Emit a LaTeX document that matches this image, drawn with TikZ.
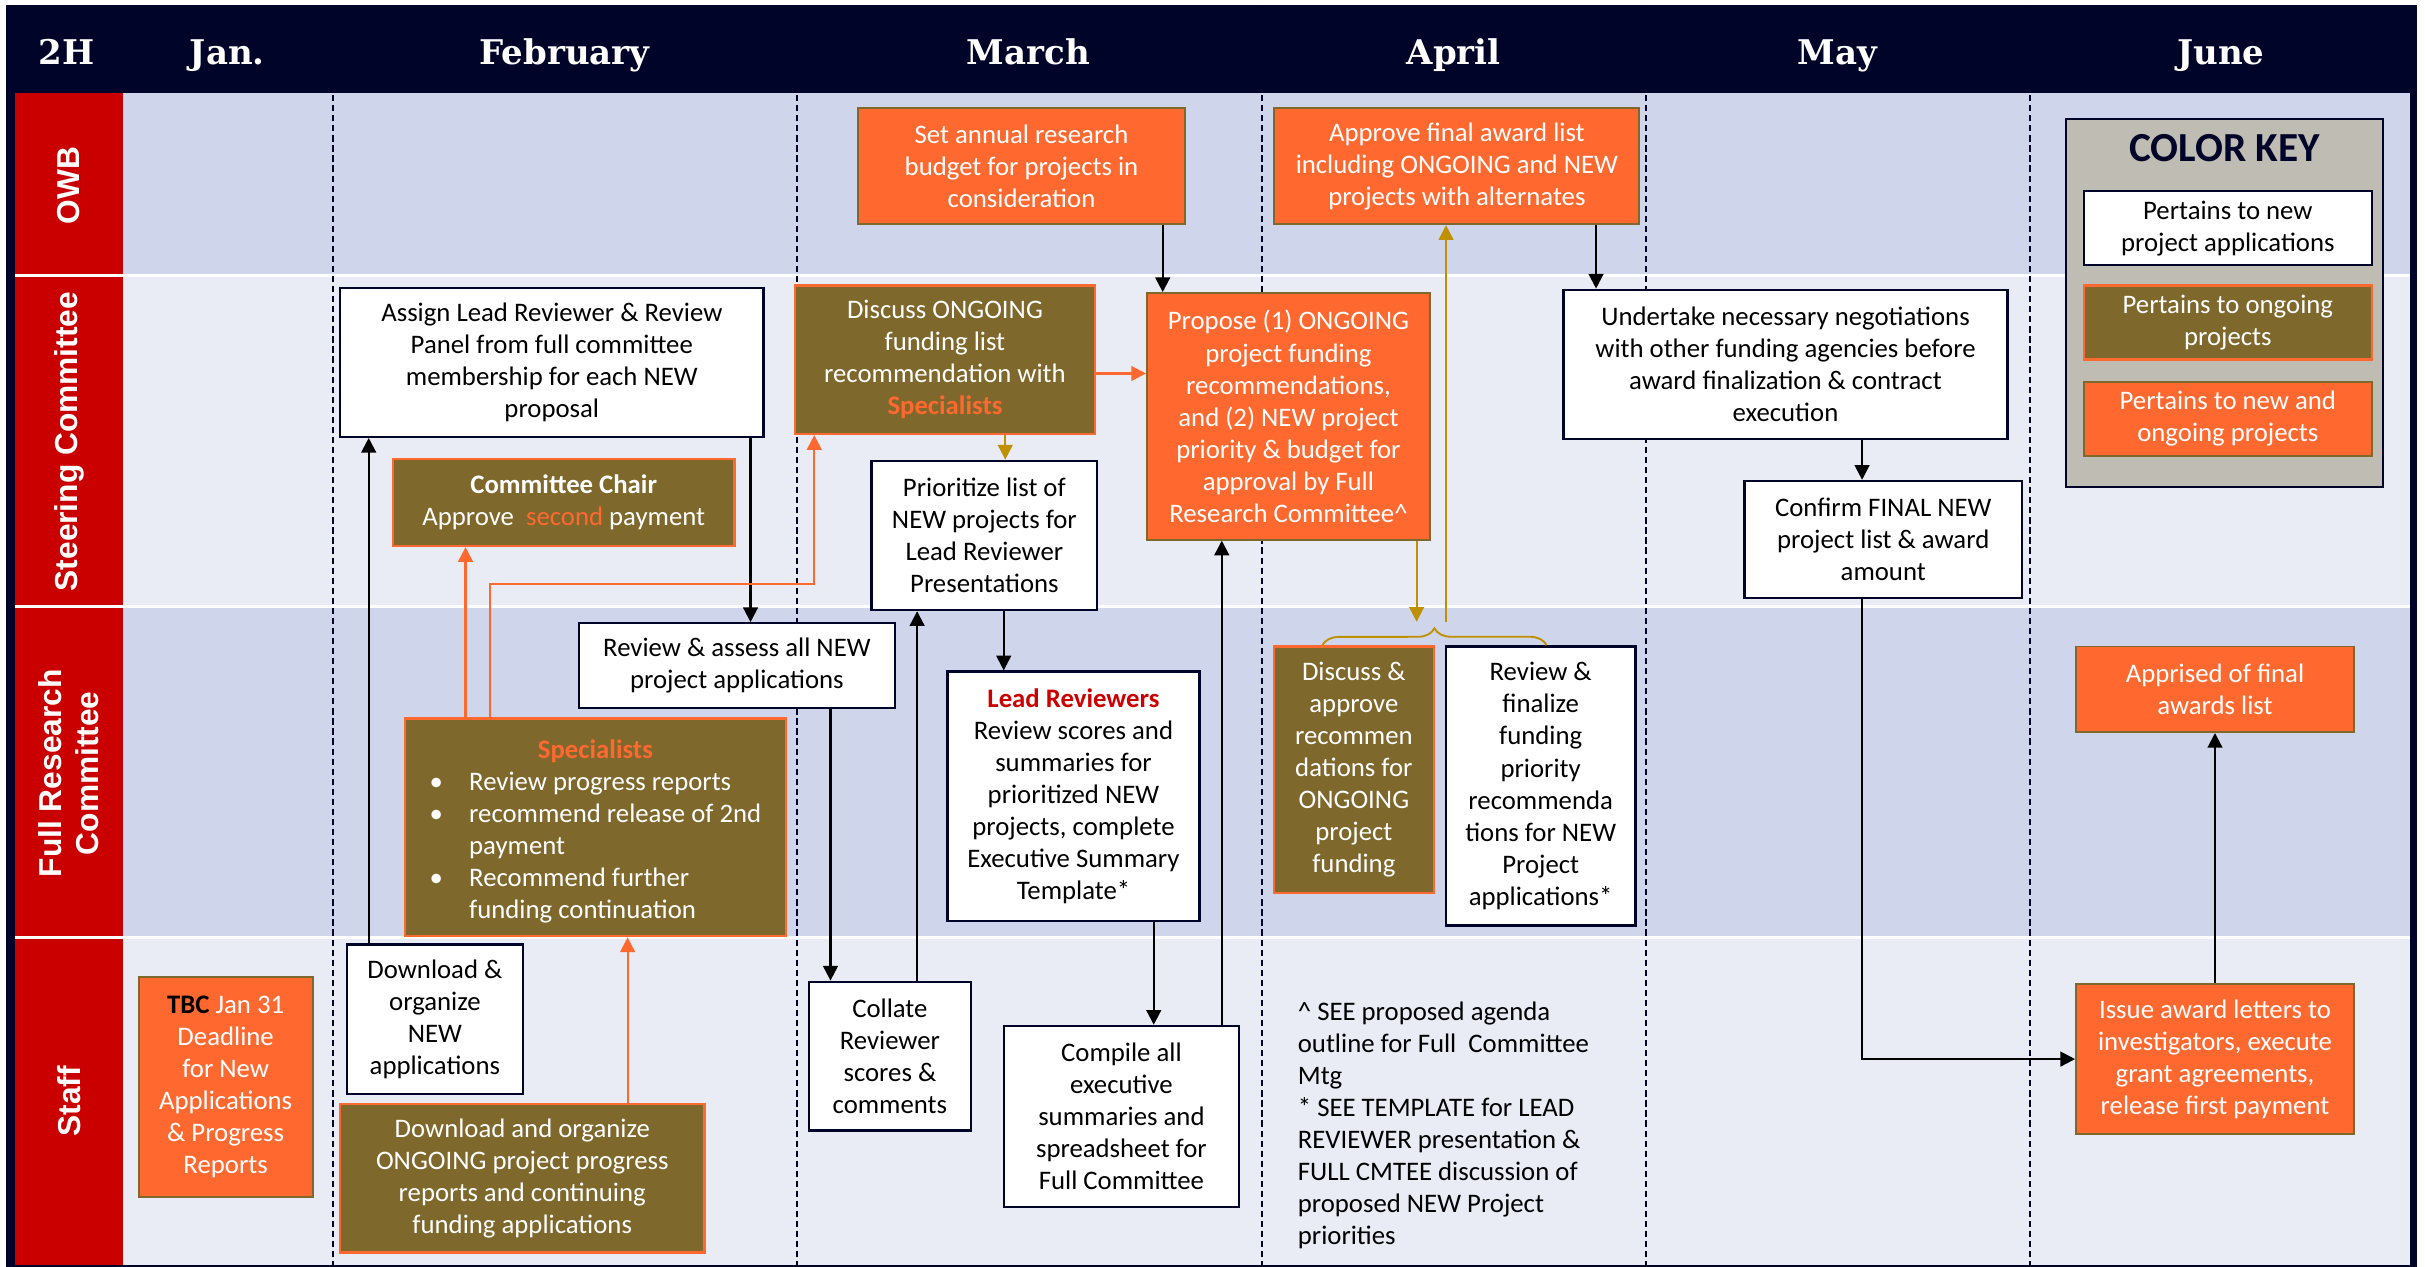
\documentclass[tikz,border=0pt]{standalone}
\usepackage{fontspec}
\setmainfont{Carlito}
\newfontfamily\lanefont{Liberation Sans}
\newfontfamily\hdrfont{DejaVu Serif}
\usetikzlibrary{arrows.meta}
\usetikzlibrary{positioning}
\usetikzlibrary{decorations.pathreplacing}
\definecolor{hdrnavy}{RGB}{0,4,40}
\definecolor{lanered}{RGB}{202,0,0}
\definecolor{laneA}{RGB}{207,213,234}
\definecolor{laneB}{RGB}{233,235,245}
\definecolor{fillorange}{RGB}{255,105,48}
\definecolor{fillolive}{RGB}{127,104,43}
\definecolor{arrowgold}{RGB}{191,144,0}
\definecolor{keygray}{RGB}{191,188,179}
\definecolor{leadred}{RGB}{204,0,0}
\newcommand{\txtbody}{\fontsize{17.3}{20.7}\selectfont}
\tikzset{>={Triangle[length=9.5pt,width=9.5pt]}}
\tikzset{
  newbox/.style={draw=hdrnavy, line width=1.5, fill=white, text=black, align=center, inner sep=2, font=\txtbody},
  oldbox/.style={draw=fillorange, line width=1.5, fill=fillolive, text=white, align=center, inner sep=2, font=\txtbody},
  bothbox/.style={draw=fillolive, line width=1.2, fill=fillorange, text=white, align=center, inner sep=2, font=\txtbody},
  blk/.style={draw=black, line width=1.4, ->},
  org/.style={draw=fillorange, line width=1.4, ->},
  gld/.style={draw=arrowgold, line width=1.3, ->},
  monthsep/.style={draw=hdrnavy, line width=1.3, dash pattern={on 4pt off 2.5pt}},
  hdrtxt/.style={anchor=base, text=white, font=\hdrfont\bfseries\fontsize{22}{26}\selectfont},
  lanelbl/.style={rotate=90, text=white, align=center, font=\lanefont\bfseries\fontsize{20.5}{24}\selectfont}
}

\begin{document}
\begin{tikzpicture}[x=1pt,y=1pt,yscale=-1,xscale=1]
\useasboundingbox (0,0) rectangle (1568,819);

%Shape: Rectangle (frame and header)
\fill[hdrnavy] (4,3) rectangle (1563,819);
%Shape: Rectangle (lanes)
\fill[laneA] (79.5,60) rectangle (1558,178);
\fill[laneB] (79.5,178) rectangle (1558,392);
\fill[laneA] (79.5,392) rectangle (1558,606);
\fill[laneB] (79.5,606) rectangle (1558,818);
\fill[lanered] (9.7,60) rectangle (79.5,818);
%Straight Lines (lane gaps)
\draw[white, line width=2.2] (9.7,178) -- (1558,178);
\draw[white, line width=2.2] (9.7,392) -- (1558,392);
\draw[white, line width=2.2] (9.7,606) -- (1558,606);
%Straight Lines (months)
\draw[monthsep] (215,3) -- (215,819);
\draw[monthsep] (515.5,3) -- (515.5,819);
\draw[monthsep] (816,3) -- (816,819);
\draw[monthsep] (1064.5,3) -- (1064.5,819);
\draw[monthsep] (1312.5,3) -- (1312.5,819);

%Header
\node[hdrtxt] (h2h) at (43,42) {2H};
\node[hdrtxt] (hjan) at (147,42) {Jan.};
\node[hdrtxt] (hfeb) at (365,42) {February};
\node[hdrtxt] (hmar) at (665,42) {March};
\node[hdrtxt] (hapr) at (940,42) {April};
\node[hdrtxt] (hmay) at (1188,42) {May};
\node[hdrtxt] (hjun) at (1436,42) {June};

%Lane labels
\node[lanelbl] (lowb) at (44.6,120) {OWB};
\node[lanelbl] (lsteer) at (44.6,285.5) {Steering Committee};
\node[lanelbl] (lfull) at (44.6,500) {Full Research\\Committee};
\node[lanelbl] (lstaff) at (44.6,712) {Staff};

%OWB
\node[bothbox, minimum width=211, minimum height=75] (budget) at (660.5,107.5) {Set annual research\\budget for projects in\\consideration};
\node[bothbox, minimum width=236, minimum height=75] (finalapp) at (942,107.5) {Approve final award list\\including ONGOING and NEW\\projects with alternates};

%Color key
\node[draw=hdrnavy, line width=1.5, fill=keygray, minimum width=205, minimum height=238] (keybox) at (1438.5,196) {};
\node[text=hdrnavy, font=\bfseries\fontsize{26.7}{28}\selectfont] (keyttl) at (1438.5,96) {COLOR KEY};
\node[newbox, minimum width=186, minimum height=48] (keynew) at (1440.5,147.5) {Pertains to new\\project applications};
\node[oldbox, minimum width=186, minimum height=48] (keyold) at (1440.5,208.5) {Pertains to ongoing\\projects};
\node[bothbox, minimum width=186, minimum height=48] (keyboth) at (1440.5,270.8) {Pertains to new and\\ongoing projects};

%Steering Committee
\node[newbox, minimum width=273.7, minimum height=96.4] (assign) at (356.8,234.2) {Assign Lead Reviewer \& Review\\Panel from full committee\\membership for each NEW\\proposal};
\node[oldbox, minimum width=221, minimum height=56] (chair) at (364.5,325) {\textbf{Committee Chair}\\Approve\ \ \textcolor{fillorange}{second} payment};
\node[oldbox, minimum width=194, minimum height=96] (discuss) at (611,232.6) {Discuss ONGOING\\funding list\\recommendation with\\\textbf{\textcolor{fillorange}{Specialists}}};
\node[newbox, minimum width=146, minimum height=96.5] (priority) at (636.5,346.2) {Prioritize list of\\NEW projects for\\Lead Reviewer\\Presentations};
\node[bothbox, minimum width=183, minimum height=159.5] (propose) at (833.1,269.2) {Propose (1) ONGOING\\project funding\\recommendations,\\and (2) NEW project\\priority \& budget for\\approval by Full\\Research Committee\textasciicircum};
\node[newbox, minimum width=287, minimum height=96.3] (negot) at (1154.5,235.5) {Undertake necessary negotiations\\with other funding agencies before\\award finalization \& contract\\execution};
\node[newbox, minimum width=179.4, minimum height=75.6] (confirm) at (1217.7,348.8) {Confirm FINAL NEW\\project list \& award\\amount};

%Full Research Committee
\node[newbox, minimum width=204, minimum height=54.6] (assess) at (476.5,430.3) {Review \& assess all NEW\\project applications};
\node[oldbox, minimum width=246, minimum height=140.7] (spec) at (385,535) {\rule{0pt}{20.5pt}\textbf{\textcolor{fillorange}{Specialists}}\\
\begin{tabular}[t]{@{}l@{\hspace{17pt}}l@{}}
\textbullet & Review progress reports\\
\textbullet & recommend release of 2nd\\
 & payment\\
\textbullet & Recommend further\\
 & funding continuation
\end{tabular}};
\node[newbox, minimum width=163, minimum height=161.2] (lead) at (694.1,514.8) {\textbf{\textcolor{leadred}{Lead Reviewers}}\\Review scores and\\summaries for\\prioritized NEW\\projects, complete\\Executive Summary\\Template*};
\node[oldbox, minimum width=103.2, minimum height=159.5] (ongapp) at (875.4,497.8) {Discuss \&\\approve\\recommen\\dations for\\ONGOING\\project\\funding};
\node[newbox, minimum width=122.7, minimum height=180.5] (newfin) at (996.2,508.2) {Review \&\\finalize\\funding\\priority\\recommenda\\tions for NEW\\Project\\applications*};
\node[bothbox, minimum width=179.7, minimum height=55.3] (apprised) at (1432.2,445.7) {Apprised of final\\awards list};

%Staff
\node[bothbox, minimum width=112.6, minimum height=142.2] (tbc) at (145.9,702.7) {\textbf{\textcolor{black}{TBC}} Jan 31\\Deadline\\for New\\Applications\\\& Progress\\Reports};
\node[newbox, minimum width=114, minimum height=96.4] (dlnew) at (281.2,659) {Download \&\\organize\\NEW\\applications};
\node[oldbox, minimum width=235.7, minimum height=96] (dlold) at (337.7,761.8) {Download and organize\\ONGOING project progress\\reports and continuing\\funding applications};
\node[newbox, minimum width=104.8, minimum height=96.2] (collate) at (575.4,682.9) {Collate\\Reviewer\\scores \&\\comments};
\node[newbox, minimum width=152.2, minimum height=117.1] (compile) at (725.1,721.9) {Compile all\\executive\\summaries and\\spreadsheet for\\Full Committee};
\node[anchor=west, align=left, inner sep=0, text=black, font=\txtbody] (note) at (839,727.5) {\textasciicircum{} SEE proposed agenda\\outline for Full\ \ Committee\\Mtg\\* SEE TEMPLATE for LEAD\\REVIEWER presentation \&\\FULL CMTEE discussion of\\proposed NEW Project\\priorities};
\node[bothbox, minimum width=179.7, minimum height=97.1] (issue) at (1432.2,684.8) {Issue award letters to\\investigators, execute\\grant agreements,\\release first payment};

%Straight Lines (connectors)
\draw[blk] (dlnew.north -| 238.4,0) -- (assign.south -| 238.4,0);
\draw[blk] (assign.south -| 485.3,0) -- (assess.north -| 485.3,0);
\draw[org] (dlold.north -| 405.8,0) -- (spec.south -| 405.8,0);
\draw[org] (spec.north -| 301,0) -- (chair.south -| 301,0);
\draw[org] (spec.north -| 317,0) -- (317,377.4) -| (discuss.south -| 526.5,0);
\draw[blk] (assess.south -| 537,0) -- (collate.north -| 537,0);
\draw[blk] (collate.north -| 593,0) -- (priority.south -| 593,0);
\draw[gld] (discuss.south -| 650,0) -- (priority.north -| 650,0);
\draw[org] (discuss.east |- 0,241.5) -- (propose.west |- 0,241.5);
\draw[blk] (budget.south -| 751.8,0) -- (propose.north -| 751.8,0);
\draw[blk] (compile.north -| 790,0) -- (propose.south -| 790,0);
\draw[blk] (lead.south -| 746,0) -- (compile.north -| 746,0);
\draw[blk] (priority.south -| 649,0) -- (lead.north -| 649,0);
\draw[blk] (finalapp.south -| 1032,0) -- (negot.north -| 1032,0);
\draw[blk] (negot.south -| 1204,0) -- (confirm.north -| 1204,0);
\draw[blk] (confirm.south -| 1204,0) |- (issue.west);
\draw[blk] (issue.north) -- (apprised.south);

%Brace over April committee decisions
\coordinate (brin) at (916,402);
\coordinate (brout) at (935,402);
\draw[arrowgold, line width=1.2, decorate, decoration={brace, amplitude=11}] (ongapp.north west -| 855,0) -- (newfin.north west -| 1000,0);
\draw[gld] (propose.south -| brin) -- (brin);
\draw[gld] (brout) -- (finalapp.south -| brout);
\end{tikzpicture}
\end{document}
